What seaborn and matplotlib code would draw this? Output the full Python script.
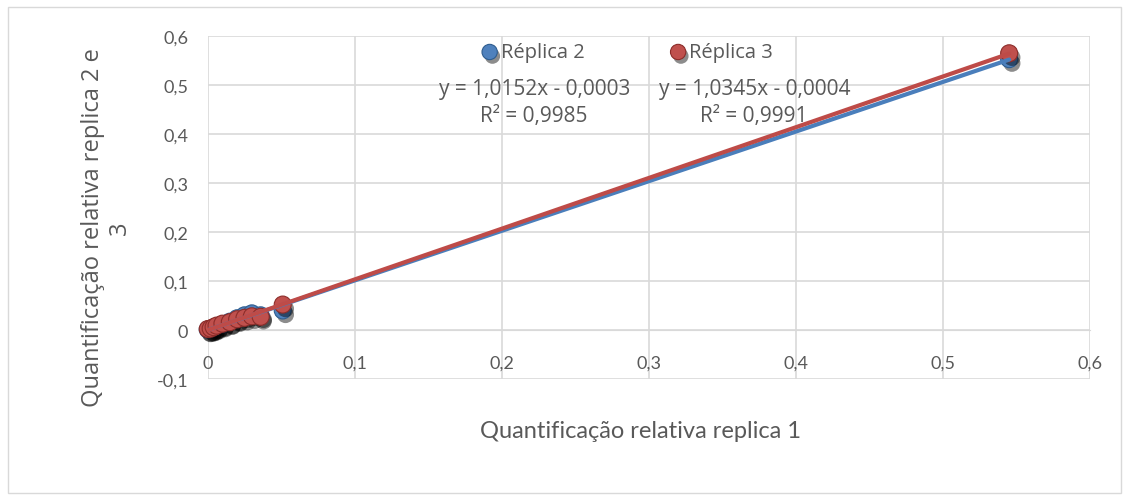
import numpy as np
import pandas as pd
import matplotlib
matplotlib.use("Agg")
import matplotlib.pyplot as plt
from matplotlib import patheffects as pe
from matplotlib.patches import Rectangle
import seaborn as sns

# Data
replica1 = [0.000, 0.002, 0.004, 0.006, 0.010, 0.015, 0.020, 0.025, 0.030, 0.036, 0.051, 0.545]
replica2 = [0.001, 0.002, 0.004, 0.007, 0.011, 0.017, 0.024, 0.030, 0.034, 0.030, 0.040, 0.553]
replica3 = [0.002, 0.003, 0.006, 0.009, 0.013, 0.016, 0.022, 0.025, 0.028, 0.027, 0.052, 0.565]
eq_rep2 = ("y = 1,0152x - 0,0003", "R² = 0,9985")
eq_rep3 = ("y = 1,0345x - 0,0004", "R² = 0,9991")
x_ticks = [0.0, 0.1, 0.2, 0.3, 0.4, 0.5, 0.6]
x_tick_labels = ["0", "0,1", "0,2", "0,3", "0,4", "0,5", "0,6"]
y_ticks = [-0.1, 0.0, 0.1, 0.2, 0.3, 0.4, 0.5, 0.6]
y_tick_labels = ["-0,1", "0", "0,1", "0,2", "0,3", "0,4", "0,5", "0,6"]

BLUE = "#4f81bd"
RED = "#c0504d"
GREY = "#595959"
FAM = ["Open Sans", "DejaVu Sans"]

sns.set_style("white")
plt.rcParams["font.family"] = ["Lato", "DejaVu Sans"]

df = pd.DataFrame({"r1": replica1, "r2": replica2, "r3": replica3})

fig = plt.figure(figsize=(11.29, 5.02), dpi=100)
fig.patches.append(Rectangle((8 / 1129, 8 / 502), 1113 / 1129, 486 / 502, transform=fig.transFigure,
                             fill=False, edgecolor="#d9d9d9", lw=1))
ax = fig.add_axes([0.184, 0.243, 0.9655 - 0.184, 0.926 - 0.243])

shadow = [pe.SimplePatchShadow(offset=(2, -3), shadow_rgbFace="black", alpha=0.45), pe.Normal()]

sns.scatterplot(data=df, x="r1", y="r2", ax=ax, color=BLUE, s=150, edgecolor="#2f5d8f",
                linewidth=0.8, zorder=3, label="Réplica 2", clip_on=False)
sns.scatterplot(data=df, x="r1", y="r3", ax=ax, color=RED, s=150, edgecolor="#8c2d2a",
                linewidth=0.8, zorder=4, label="Réplica 3", clip_on=False)
for coll in ax.collections:
    coll.set_path_effects(shadow)

sns.regplot(data=df, x="r1", y="r2", ax=ax, scatter=False, ci=None, truncate=True,
            line_kws={"color": "#4a7ebb", "lw": 3, "zorder": 5})
sns.regplot(data=df, x="r1", y="r3", ax=ax, scatter=False, ci=None, truncate=True,
            line_kws={"color": "#be4b48", "lw": 3, "zorder": 6})

ax.set_xlim(0, 0.6)
ax.set_ylim(-0.1, 0.6)
ax.set_xticks(x_ticks)
ax.set_xticklabels(x_tick_labels)
ax.set_yticks(y_ticks)
ax.set_yticklabels(y_tick_labels)
ax.grid(True, color="#d9d9d9", lw=1.2)
ax.set_axisbelow(True)
for side in ["top", "right", "left"]:
    ax.spines[side].set_visible(False)
ax.spines["bottom"].set_position(("data", 0))
ax.spines["bottom"].set_color("#d9d9d9")
ax.tick_params(axis="both", length=0, labelsize=13, colors=GREY)
ax.tick_params(axis="x", pad=18)
ax.tick_params(axis="y", pad=14)

ax.set_xlabel("")
ax.set_ylabel("")
fig.text(0.567, 0.14, "Quantificação relativa replica 1", ha="center", va="center",
         fontsize=17, color=GREY, family=["Lato", "DejaVu Sans"])
fig.text(0.094, 0.546, "Quantificação relativa replica 2 e\n3", ha="center", va="center",
         rotation=90, fontsize=17, color=GREY, linespacing=1.15, family=FAM)

leg = ax.legend(loc="upper center", bbox_to_anchor=(0.475, 1.035), ncol=2, frameon=False,
                fontsize=14.5, handlelength=0.9, handletextpad=0.1, columnspacing=4.2,
                markerscale=0.9)
for t in leg.get_texts():
    t.set_color(GREY)
    t.set_family(FAM)

for xpos, eq in [(0.2224, eq_rep2), (0.372, eq_rep3)]:
    ax.text(xpos, 0.494, eq[0], ha="center", va="center",
            fontsize=15, color=GREY, family=FAM, zorder=7)
    ax.text(xpos - 0.001, 0.437, eq[1], ha="center", va="center",
            fontsize=15, color=GREY, family=FAM, zorder=7)

fig.savefig("out.png", dpi=100)
